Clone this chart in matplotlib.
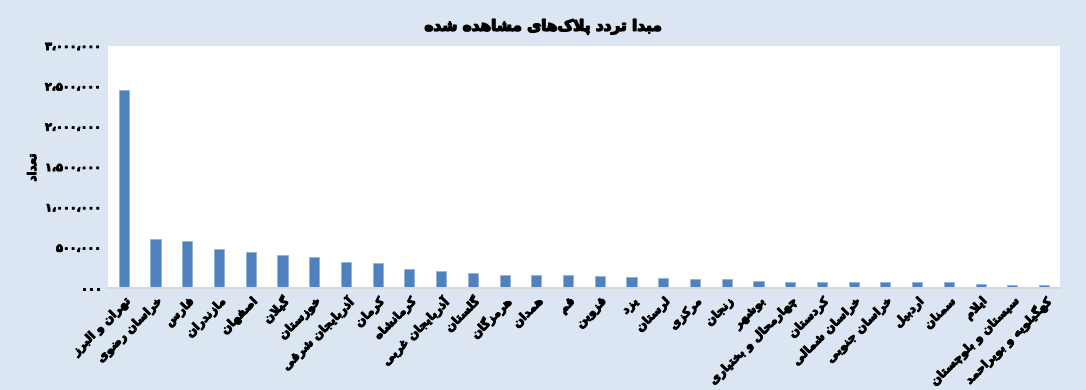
import numpy as np
import matplotlib
matplotlib.use('Agg')
import matplotlib.pyplot as plt
import matplotlib.patheffects as pe

# -------------------
# data
# -------------------
provinces = ['تهران و البرز', 'خراسان رضوی', 'فارس', 'مازندران', 'اصفهان', 'گیلان',
             'خوزستان', 'آذربایجان شرقی', 'کرمان', 'کرمانشاه', 'آذربایجان غربی',
             'گلستان', 'هرمزگان', 'همدان', 'قم', 'قزوین', 'یزد', 'لرستان', 'مرکزی',
             'زنجان', 'بوشهر', 'چهارمحال و بختیاری', 'کردستان', 'خراسان شمالی',
             'خراسان جنوبی', 'اردبیل', 'سمنان', 'ایلام', 'سیستان و بلوچستان',
             'کهگیلویه و بویراحمد']
counts = [2450000, 604000, 579000, 479000, 446000, 409000, 380000, 322000, 310000,
          231000, 215000, 186000, 161000, 157000, 157000, 149000, 136000, 128000,
          112000, 112000, 83000, 74000, 74000, 70000, 70000, 70000, 70000, 50000,
          41000, 37000]
yticks = [0, 500000, 1000000, 1500000, 2000000, 2500000, 3000000]
title = 'مبدا تردد پلاک\u200cهای مشاهده شده'
ylabel = 'تعداد'

# -------------------
# tiny arabic/persian shaper: presentation forms + reversal
# forms = (isolated, final, initial, medial); 2-tuples only join to the right
# -------------------
FORMS = {
    'ا': (0xFE8D, 0xFE8E), 'آ': (0xFE81, 0xFE82), 'د': (0xFEA9, 0xFEAA),
    'ذ': (0xFEAB, 0xFEAC), 'ر': (0xFEAD, 0xFEAE), 'ز': (0xFEAF, 0xFEB0),
    'ژ': (0xFB8A, 0xFB8B), 'و': (0xFEED, 0xFEEE),
    'ب': (0xFE8F, 0xFE90, 0xFE91, 0xFE92), 'پ': (0xFB56, 0xFB57, 0xFB58, 0xFB59),
    'ت': (0xFE95, 0xFE96, 0xFE97, 0xFE98), 'ث': (0xFE99, 0xFE9A, 0xFE9B, 0xFE9C),
    'ج': (0xFE9D, 0xFE9E, 0xFE9F, 0xFEA0), 'چ': (0xFB7A, 0xFB7B, 0xFB7C, 0xFB7D),
    'ح': (0xFEA1, 0xFEA2, 0xFEA3, 0xFEA4), 'خ': (0xFEA5, 0xFEA6, 0xFEA7, 0xFEA8),
    'س': (0xFEB1, 0xFEB2, 0xFEB3, 0xFEB4), 'ش': (0xFEB5, 0xFEB6, 0xFEB7, 0xFEB8),
    'ص': (0xFEB9, 0xFEBA, 0xFEBB, 0xFEBC), 'ض': (0xFEBD, 0xFEBE, 0xFEBF, 0xFEC0),
    'ط': (0xFEC1, 0xFEC2, 0xFEC3, 0xFEC4), 'ظ': (0xFEC5, 0xFEC6, 0xFEC7, 0xFEC8),
    'ع': (0xFEC9, 0xFECA, 0xFECB, 0xFECC), 'غ': (0xFECD, 0xFECE, 0xFECF, 0xFED0),
    'ف': (0xFED1, 0xFED2, 0xFED3, 0xFED4), 'ق': (0xFED5, 0xFED6, 0xFED7, 0xFED8),
    'ک': (0xFB8E, 0xFB8F, 0xFB90, 0xFB91), 'گ': (0xFB92, 0xFB93, 0xFB94, 0xFB95),
    'ل': (0xFEDD, 0xFEDE, 0xFEDF, 0xFEE0), 'م': (0xFEE1, 0xFEE2, 0xFEE3, 0xFEE4),
    'ن': (0xFEE5, 0xFEE6, 0xFEE7, 0xFEE8), 'ه': (0xFEE9, 0xFEEA, 0xFEEB, 0xFEEC),
    'ی': (0xFBFC, 0xFBFD, 0xFBFE, 0xFBFF),
}


def shape(text):
    # lam-alef ligatures first
    text = text.replace('لا', '\uFEFB').replace('لآ', '\uFEF5')
    forms = dict(FORMS)
    forms.update({'\uFEFB': (0xFEFB, 0xFEFC), '\uFEF5': (0xFEF5, 0xFEF6)})
    out = []
    n = len(text)
    for i, ch in enumerate(text):
        if ch not in forms:
            if ch != '\u200c':
                out.append(ch)
            continue
        f = forms[ch]
        prev = text[i - 1] if i > 0 else ''
        nxt = text[i + 1] if i < n - 1 else ''
        join_prev = prev in forms and len(forms[prev]) == 4
        join_next = len(f) == 4 and nxt in forms
        if join_prev and join_next:
            code = f[3]
        elif join_prev:
            code = f[1]
        elif join_next:
            code = f[2]
        else:
            code = f[0]
        out.append(chr(code))
    return ''.join(out[::-1])


def fa_num(v):
    digits = '۰۱۲۳۴۵۶۷۸۹'
    if v == 0:
        return '۰۰۰'
    s = '{:,}'.format(v).replace(',', '،')
    return ''.join(digits[int(c)] if c.isdigit() else c for c in s)


plt.rcParams['font.family'] = ['DejaVu Sans']
heavy = [pe.withStroke(linewidth=0.7, foreground='black')]

bg = '#DCE6F2'
fig = plt.figure(figsize=(10.86, 3.9), dpi=100, facecolor=bg)
ax = fig.add_axes([0.0994, 0.2615, 0.8766, 0.6205])
ax.set_facecolor('white')

x = np.arange(len(provinces))
ax.bar(x, counts, width=0.32, color='#4F81BD', edgecolor='#95B3D7', linewidth=0.6)

ax.set_xlim(-0.5, len(provinces) - 0.5)
ax.set_ylim(0, 3000000)
ax.set_yticks(yticks)
ax.set_yticklabels([fa_num(v) for v in yticks], fontsize=8, fontweight='bold')
ax.set_xticks(x)
ax.set_xticklabels([shape(p) for p in provinces], rotation=45, ha='right', va='top',
                   rotation_mode='anchor', fontsize=8.5, fontweight='bold')
ax.tick_params(axis='both', length=0, pad=5)
for lab in ax.get_xticklabels() + ax.get_yticklabels():
    lab.set_path_effects(heavy)

for side in ['top', 'right', 'left']:
    ax.spines[side].set_visible(False)
ax.spines['bottom'].set_color('#D9D9D9')
ax.spines['bottom'].set_linewidth(1.5)

t = fig.text(0.5, 0.93, shape(title), ha='center', va='center', fontsize=11,
             fontweight='bold')
t.set_path_effects([pe.withStroke(linewidth=1.0, foreground='black')])
yl = fig.text(0.030, 0.57, shape(ylabel), ha='center', va='center', rotation=90,
              fontsize=8.5, fontweight='bold')
yl.set_path_effects(heavy)

fig.savefig('out.png', dpi=100, facecolor=bg)
